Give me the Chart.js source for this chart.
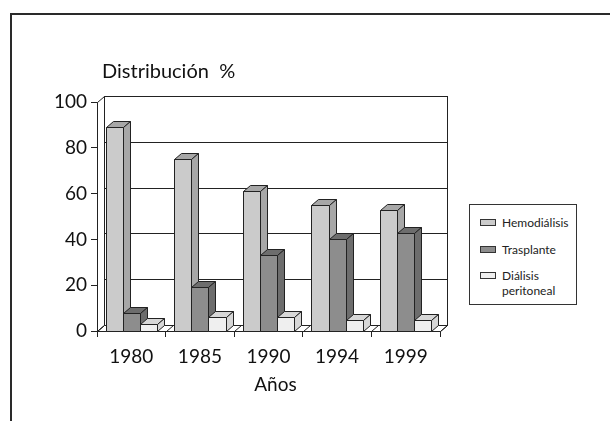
<!DOCTYPE html>
<html>
<head>
<meta charset="utf-8">
<script src="https://cdn.jsdelivr.net/npm/chart.js@4.4.1/dist/chart.umd.min.js"></script>
<style>
  html, body { margin: 0; padding: 0; background: #fff; }
  #wrap { position: relative; width: 610px; height: 421px; overflow: hidden; font-family: Lato, sans-serif; }
  #frame { position: absolute; left: 10px; top: 13px; width: 700px; height: 500px; border-top: 2px solid #2a2a2a; border-left: 2px solid #2a2a2a; }
  canvas { position: absolute; left: 0; top: 0; }
  #legend { position: absolute; left: 469px; top: 204px; width: 108px; height: 101px; box-sizing: border-box; border: 1px solid #333; padding: 10px 0 0 10px; background: #fff; font-size: 12px; line-height: 15px; color: #222; }
  .item { display: flex; align-items: flex-start; margin-bottom: 11.5px; }
  .sw { width: 16px; height: 7px; box-sizing: border-box; border: 1px solid #333; margin-top: 4px; margin-right: 6px; flex: none; }
  .lbl { width: 62px; }
</style>
</head>
<body>
<div id="wrap">
  <div id="frame"></div>
  <canvas id="chart" width="610" height="421"></canvas>
  <div id="legend"></div>
</div>
<script>
const years = ["1980", "1985", "1990", "1994", "1999"];
const seriesNames = ["Hemodiálisis", "Trasplante", "Diálisis peritoneal"];
const hemodialisis = [89, 75, 61, 55, 53];
const trasplante = [8, 19, 33, 40, 43];
const dialisisPeritoneal = [3, 6, 6, 5, 5];
const yTicks = [0, 20, 40, 60, 80, 100];

const frontColors = ["#cbcbcb", "#8d8d8d", "#efefef"];
const shadeColors = ["#a7a7a7", "#6d6d6d", "#d7d7d7"];
const DX = 7, DY = -6; // depth of the 3d look

function poly(ctx, pts, fill) {
  ctx.beginPath();
  ctx.moveTo(pts[0][0], pts[0][1]);
  for (let k = 1; k < pts.length; k++) ctx.lineTo(pts[k][0], pts[k][1]);
  ctx.closePath();
  if (fill) { ctx.fillStyle = fill; ctx.fill(); }
  ctx.stroke();
}

// walls, floor and 3d bars
const box3d = {
  id: "box3d",
  beforeDatasetsDraw(chart) {
    const { ctx, chartArea: a, scales: { x, y } } = chart;
    const px = (v) => Math.round(v) + 0.5;
    const L = px(a.left), R = px(a.right);
    const T = px(y.getPixelForValue(100)), B = px(y.getPixelForValue(0));
    ctx.save();
    ctx.lineWidth = 1;
    ctx.strokeStyle = "#222";

    ctx.strokeRect(L + DX, T + DY, R - L, B - T);
    yTicks.forEach((v) => {
      if (v === 0 || v === 100) return;
      const yy = px(y.getPixelForValue(v)) + DY;
      ctx.beginPath();
      ctx.moveTo(L + DX, yy);
      ctx.lineTo(R + DX, yy);
      ctx.stroke();
    });
    poly(ctx, [[L, T], [L + DX, T + DY], [L + DX, B + DY], [L, B]], "#fff");
    poly(ctx, [[L, B], [R, B], [R + DX, B + DY], [L + DX, B + DY]], "#fff");
    for (let i = 0; i <= years.length; i++) {
      const xb = px(x.getPixelForValue(i - 0.5));
      ctx.beginPath();
      ctx.moveTo(xb, B);
      ctx.lineTo(xb + DX, B + DY);
      ctx.stroke();
    }

    years.forEach((_, i) => {
      chart.data.datasets.forEach((ds, j) => {
        const el = chart.getDatasetMeta(j).data[i];
        const l = px(el.x - el.width / 2), r = px(el.x + el.width / 2);
        const t = px(el.y), b = px(el.base);
        poly(ctx, [[l, t], [r, t], [r, b], [l, b]], frontColors[j]);
        poly(ctx, [[l, t], [l + DX, t + DY], [r + DX, t + DY], [r, t]], shadeColors[j]);
        poly(ctx, [[r, t], [r + DX, t + DY], [r + DX, b + DY], [r, b]], shadeColors[j]);
      });
    });
    ctx.restore();
    return false;
  },
  afterDraw(chart) {
    const { ctx, chartArea: a } = chart;
    ctx.save();
    ctx.fillStyle = "#111";
    ctx.textBaseline = "middle";
    ctx.font = "20px Lato";
    ctx.fillText("Distribución  %", 102, 72);
    ctx.font = "19px Lato";
    ctx.textAlign = "center";
    ctx.fillText("Años", (a.left + a.right) / 2 + DX, 385);
    ctx.restore();
  },
};

const seriesValues = [hemodialisis, trasplante, dialisisPeritoneal];

Chart.defaults.font.family = "Lato";
Chart.defaults.color = "#111";

new Chart(document.getElementById("chart"), {
  type: "bar",
  data: {
    labels: years,
    datasets: seriesNames.map((name, j) => ({
      label: name,
      data: seriesValues[j],
      backgroundColor: frontColors[j],
      categoryPercentage: 0.75,
      barPercentage: 1,
    })),
  },
  options: {
    responsive: false,
    animation: false,
    devicePixelRatio: 1,
    layout: { padding: { top: 102, right: 170, bottom: 25, left: 0 } },
    plugins: { legend: { display: false }, tooltip: { enabled: false } },
    scales: {
      x: {
        grid: { drawOnChartArea: false, tickLength: 6, color: "#222", offset: true },
        border: { color: "#222" },
        ticks: { font: { size: 19 }, color: "#111", padding: 8, maxRotation: 0 },
        afterFit(s) { s.height = 65; },
      },
      y: {
        min: 0,
        max: 100,
        afterBuildTicks(s) { s.ticks = yTicks.map((v) => ({ value: v })); },
        ticks: { font: { size: 19 }, color: "#111", padding: 4 },
        grid: { drawOnChartArea: false, tickLength: 6, color: "#222" },
        border: { color: "#222" },
        afterFit(s) { s.width = 97; },
      },
    },
  },
  plugins: [box3d],
});

// legend built from the series names
const legend = document.getElementById("legend");
seriesNames.forEach((name, j) => {
  const item = document.createElement("div");
  item.className = "item";
  const sw = document.createElement("span");
  sw.className = "sw";
  sw.style.background = frontColors[j];
  const lbl = document.createElement("span");
  lbl.className = "lbl";
  lbl.textContent = name;
  item.appendChild(sw);
  item.appendChild(lbl);
  legend.appendChild(item);
});
</script>
</body>
</html>
